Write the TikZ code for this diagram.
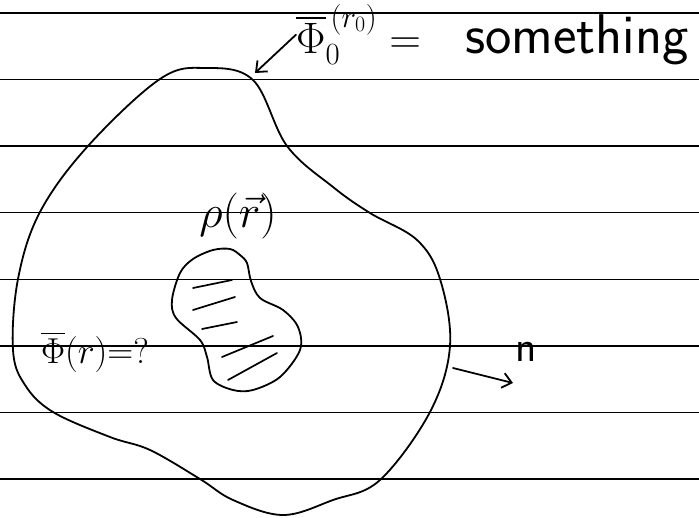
\RequirePackage{fix-cm}
\documentclass[tikz,border=0pt]{standalone}
\usepackage{amsmath,amssymb}
\usepackage{xcolor}
\usepackage{tikz}
\usetikzlibrary{arrows.meta, positioning, calc}
\tikzset{
    ruleline/.style={line width=1.5pt, color=black},
    handline/.style={line width=1.8pt, color=black, line cap=round, line join=round},
    hatchline/.style={handline, line width=1.7pt},
    handarrow/.style={handline, -{Straight Barb[length=9pt, width=15pt, line width=1.8pt]}},
    biglabel/.style={inner sep=0pt, font=\fontsize{44}{50}\selectfont},
    midlabel/.style={inner sep=0pt, font=\fontsize{36}{42}\selectfont}
}

\begin{document}
\begin{tikzpicture}[x=1pt, y=-1pt]
    \useasboundingbox (0,0) rectangle (699,518);
    % ruled paper
    \foreach \k in {0,...,7}
        \draw [ruleline] (0,{13+66.57*\k}) -- (699,{13+66.57*\k});

    % boundary surface
    \draw [handline] plot [smooth cycle, tension=0.6] coordinates {
        (205,68) (253,80) (287,146) (333,187) (370,213) (417,240) (440,279)
        (450,346) (430,412) (380,480) (333,500) (283,515) (233,500) (200,479)
        (150,450) (110,437) (53,412) (25,385) (13,350) (18,279) (40,212)
        (88,146) (160,79)};

    % charge region
    \draw [handline] plot [smooth cycle, tension=0.55] coordinates {
        (213,250) (230,249) (240,255) (247,263) (251,281) (260,298) (283,310)
        (298,327) (300,350) (280,377) (253,390) (233,390) (213,380) (207,357)
        (200,340) (176,318) (172,300) (180,273) (193,259)};
    \foreach \xa/\ya/\xb/\yb in {193/288/232/280, 193/310/235/297, 202/329/237/322,
                                 222/357/273/336, 228/380/277/353}
        \draw [hatchline] (\xa,\ya) -- (\xb,\yb);

    \node (rholabel) [midlabel, font=\fontsize{46}{50}\selectfont] at (238,216) {$\rho(\vec{r})$};
    \node (philabel) [midlabel] at (95,352) {$\overline{\Phi}(r){=}?$};

    \node (bclabel) [biglabel, anchor=base west] at (296,54) {$\overline{\Phi}_{0}^{\,(r_0)}\;{=}$\hspace{1em}{\fontsize{56}{60}\selectfont\sffamily something}};
    \coordinate (touch) at (255,73);
    \draw [handarrow] (bclabel.west) -- (touch);

    \coordinate (nbase) at (453,368);
    \coordinate (ntip) at (513,383);
    \node (nlabel) [biglabel, font=\fontsize{44}{50}\sffamily] at (526,352) {n};
    \draw [handarrow] (nbase) -- (ntip);
\end{tikzpicture}
\end{document}
